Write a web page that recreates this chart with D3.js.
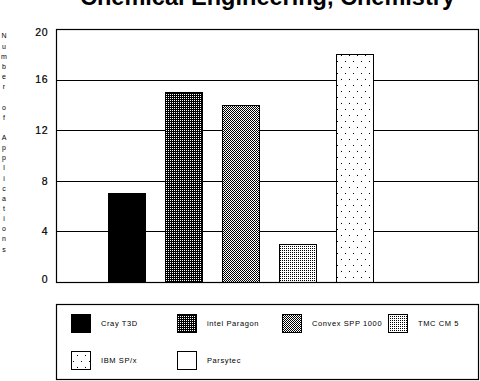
<!DOCTYPE html>
<html>
<head>
<meta charset="utf-8">
<script src="https://cdn.jsdelivr.net/npm/d3@7"></script>
<style>
  body { margin: 0; background: #fff; }
  text { font-family: "Liberation Sans", Arial, sans-serif; }
</style>
</head>
<body>
<div id="chart"></div>
<script>
var titleText = "Chemical Engineering, Chemistry";
var axisTitle = "Number of Applications";
var machines = ["Cray T3D", "intel Paragon", "Convex SPP 1000", "TMC CM 5", "IBM SP/x", "Parsytec"];
var applications = [7, 15, 14, 3, 18, 0];
var yTicks = [0, 4, 8, 12, 16, 20];
var fills = ["solid", "paragon", "convex", "tmc", "ibm", "none"];

var width = 480, height = 381;
var plot = { left: 56, top: 29, right: 479, bottom: 282 };

// 点阵纹理：背景色、点色、周期和点的位置
var textures = {
    solid:   { bg: "#000", fg: "#000", w: 1, h: 1, dots: [] },
    none:    { bg: "#fff", fg: "#000", w: 1, h: 1, dots: [] },
    paragon: { bg: "#000", fg: "#fff", w: 2, h: 2, dots: [[0, 0]] },
    convex:  { bg: "#fff", fg: "#000", w: 2, h: 2, dots: [[0, 0], [1, 1]] },
    tmc:     { bg: "#fff", fg: "#000", w: 2, h: 2, dots: [[0, 0]] },
    ibm:     { bg: "#fff", fg: "#000", w: 8, h: 12, dots: [[1, 1], [5, 7]] }
};

var svg = d3.select("#chart").append("svg")
    .attr("width", width)
    .attr("height", height)
    .style("display", "block");

svg.append("rect").attr("width", width).attr("height", height).attr("fill", "#fff");

// 画一个带纹理的方块 (px, py 为左上角整数像素)
function texturedBox(g, px, py, w, h, key) {
    var t = textures[key];
    g.append("rect")
        .attr("x", px + 0.5)
        .attr("y", py + 0.5)
        .attr("width", w)
        .attr("height", h)
        .attr("fill", t.bg)
        .attr("stroke", "#000")
        .attr("stroke-width", 1);
    if (!t.dots.length) return;
    var d = "";
    for (var yy = py + 1; yy < py + h; yy++) {
        for (var xx = px + 1; xx < px + w; xx++) {
            var hit = t.dots.some(p => xx % t.w === p[0] && yy % t.h === p[1]);
            if (hit) d += "M" + xx + " " + yy + "h1v1h-1z";
        }
    }
    g.append("path")
        .attr("d", d)
        .attr("fill", t.fg)
        .attr("shape-rendering", "crispEdges");
}

// 标题（大部分在画布上方）
svg.append("text")
    .attr("x", (plot.left + plot.right) / 2)
    .attr("y", 5)
    .attr("text-anchor", "middle")
    .attr("font-size", 24)
    .attr("font-weight", "bold")
    .attr("textLength", 375)
    .attr("lengthAdjust", "spacingAndGlyphs")
    .text(titleText);

// 比例尺
var y = d3.scaleLinear().domain([0, 20]).range([plot.bottom, plot.top]);
var x = d3.scaleBand()
    .domain(machines)
    .range([98, 440])
    .paddingInner(0.35)
    .paddingOuter(0.175);

// 网格线
svg.append("g")
    .selectAll("line")
    .data(yTicks.filter(d => d > 0 && d < 20))
    .enter()
    .append("line")
    .attr("x1", plot.left)
    .attr("x2", plot.right)
    .attr("y1", d => Math.round(y(d)) + 0.5)
    .attr("y2", d => Math.round(y(d)) + 0.5)
    .attr("stroke", "#000")
    .attr("stroke-width", 1);

// 柱子
var barGroup = svg.append("g");
machines.forEach(function (m, i) {
    if (applications[i] <= 0) return;
    var top = Math.round(y(applications[i]));
    texturedBox(barGroup, Math.round(x(m)), top, Math.round(x.bandwidth()), plot.bottom - top, fills[i]);
});

// 边框
svg.append("rect")
    .attr("x", plot.left + 0.5)
    .attr("y", plot.top + 0.5)
    .attr("width", plot.right - plot.left - 1)
    .attr("height", plot.bottom - plot.top)
    .attr("fill", "none")
    .attr("stroke", "#000")
    .attr("stroke-width", 1.2);

// 纵轴刻度文字
svg.append("g")
    .selectAll("text")
    .data(yTicks)
    .enter()
    .append("text")
    .attr("x", 48)
    .attr("y", d => Math.min(Math.max(y(d), plot.top + 3), plot.bottom - 3))
    .attr("dy", "0.36em")
    .attr("text-anchor", "end")
    .attr("font-size", 10.5)
    .attr("letter-spacing", 0.5)
    .attr("stroke", "#000")
    .attr("stroke-width", 0.2)
    .text(d => d);

// 纵轴标题（竖排字母）
svg.append("g")
    .attr("opacity", 0.99)
    .selectAll("text")
    .data(axisTitle.split(""))
    .enter()
    .append("text")
    .attr("x", 4)
    .attr("y", (d, i) => 36 + i * 10.15)
    .attr("dy", "0.35em")
    .attr("text-anchor", "middle")
    .attr("font-size", 7)
    .attr("fill", "#000")
    .text(d => d);

// 图例
svg.append("rect")
    .attr("x", plot.left + 0.5)
    .attr("y", 304.5)
    .attr("width", plot.right - plot.left - 1)
    .attr("height", 75)
    .attr("fill", "none")
    .attr("stroke", "#000")
    .attr("stroke-width", 1.2);

var legendGroup = svg.append("g");
machines.forEach(function (m, i) {
    var lx = 71 + Math.round((i % 4) * 105.5);
    var ly = 314 + Math.floor(i / 4) * 37;
    texturedBox(legendGroup, lx, ly, 19, 18, fills[i]);
    legendGroup.append("text")
        .attr("x", lx + 30)
        .attr("y", ly + 9.5)
        .attr("dy", "0.35em")
        .attr("font-size", 7.5)
        .attr("letter-spacing", 0.6)
        .text(m);
});
</script>
</body>
</html>
